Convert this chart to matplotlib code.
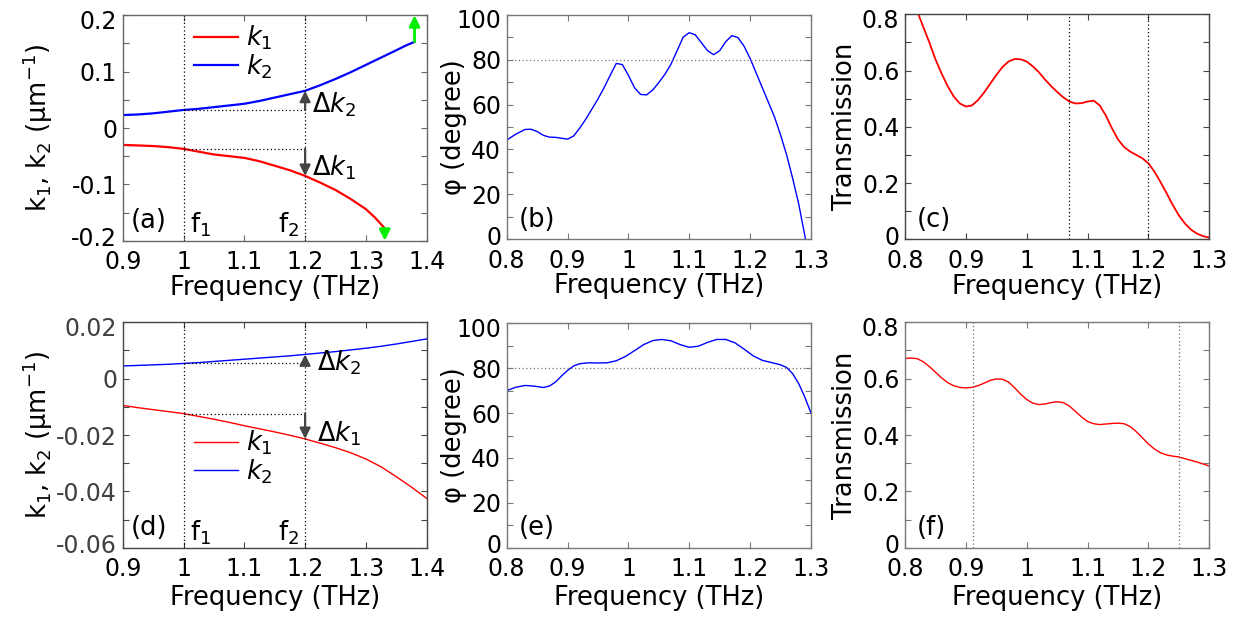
import matplotlib
matplotlib.use("Agg")
import matplotlib.pyplot as plt
from matplotlib.ticker import MultipleLocator, FuncFormatter
from matplotlib.transforms import ScaledTranslation

plt.rcParams['font.family'] = ['DejaVu Sans']
plt.rcParams['axes.unicode_minus'] = False
plt.rcParams['mathtext.fontset'] = 'dejavusans'

# ---------------- data ----------------
# (a)
freq_a_k1 = [0.90, 0.925, 0.95, 0.975, 1.00, 1.025, 1.05, 1.075, 1.10, 1.125, 1.15, 1.175,
             1.20, 1.225, 1.25, 1.275, 1.30, 1.315, 1.331]
k1_a = [-0.030, -0.031, -0.032, -0.034, -0.037, -0.042, -0.047, -0.050, -0.053, -0.059, -0.067,
        -0.075, -0.085, -0.097, -0.110, -0.126, -0.144, -0.159, -0.178]
freq_a_k2 = [0.90, 0.925, 0.95, 0.975, 1.00, 1.025, 1.05, 1.075, 1.10, 1.125, 1.15, 1.175,
             1.20, 1.225, 1.25, 1.275, 1.30, 1.325, 1.35, 1.365, 1.38]
k2_a = [0.023, 0.024, 0.026, 0.029, 0.032, 0.034, 0.037, 0.040, 0.043, 0.048, 0.054, 0.060,
        0.066, 0.076, 0.087, 0.099, 0.112, 0.125, 0.138, 0.146, 0.153]
f1_a, f2_a = 1.0, 1.2
k1_f1_a, k1_f2_a = -0.037, -0.085
k2_f1_a, k2_f2_a = 0.032, 0.066

# (b)
freq_b = [0.800, 0.815, 0.830, 0.840, 0.850, 0.860, 0.870, 0.880, 0.890, 0.900, 0.910,
          0.920, 0.930, 0.940, 0.950, 0.960, 0.970, 0.980, 0.990, 1.000, 1.010, 1.020,
          1.030, 1.040, 1.050, 1.060, 1.070, 1.080, 1.090, 1.100, 1.110, 1.120, 1.130,
          1.140, 1.150, 1.160, 1.170, 1.180, 1.190, 1.200, 1.210, 1.220, 1.230, 1.240,
          1.250, 1.260, 1.270, 1.280, 1.291]
phi_b = [44.2, 46.8, 48.9, 49.0, 48.0, 46.3, 45.5, 45.4, 45.0, 44.6, 46.0,
         49.5, 53.5, 58.0, 62.5, 67.5, 73.0, 78.3, 77.8, 73.0, 67.5, 64.5,
         64.3, 66.5, 69.8, 73.5, 78.0, 84.0, 90.0, 92.0, 91.0, 87.5, 84.0,
         82.2, 84.0, 88.0, 90.7, 89.8, 86.0, 80.5, 74.0, 67.5, 61.0, 54.5,
         46.5, 37.5, 27.0, 15.5, 0.0]
phi_ref = 80

# (c)
freq_c = [0.822, 0.830, 0.840, 0.850, 0.860, 0.870, 0.880, 0.890, 0.900, 0.910, 0.920,
          0.930, 0.940, 0.950, 0.960, 0.970, 0.980, 0.990, 1.000, 1.010, 1.020, 1.030,
          1.040, 1.050, 1.060, 1.070, 1.080, 1.090, 1.100, 1.110, 1.120, 1.130, 1.140,
          1.150, 1.160, 1.170, 1.180, 1.190, 1.200, 1.210, 1.220, 1.230, 1.240, 1.250,
          1.260, 1.270, 1.280, 1.290, 1.300]
trans_c = [0.800, 0.755, 0.700, 0.640, 0.590, 0.545, 0.508, 0.483, 0.472, 0.476, 0.495,
           0.522, 0.553, 0.584, 0.612, 0.632, 0.641, 0.640, 0.632, 0.615, 0.594, 0.568,
           0.545, 0.524, 0.505, 0.490, 0.483, 0.484, 0.490, 0.493, 0.476, 0.440, 0.395,
           0.355, 0.328, 0.312, 0.300, 0.288, 0.270, 0.240, 0.203, 0.163, 0.122, 0.085,
           0.056, 0.034, 0.020, 0.011, 0.006]
vlines_c = [1.07, 1.20]

# (d)
freq_d = [0.90, 0.925, 0.95, 0.975, 1.00, 1.025, 1.05, 1.075, 1.10, 1.125, 1.15, 1.175,
          1.20, 1.225, 1.25, 1.275, 1.30, 1.325, 1.35, 1.375, 1.40]
k1_d = [-0.0095, -0.0103, -0.0110, -0.0117, -0.0124, -0.0134, -0.0144, -0.0155, -0.0167,
        -0.0178, -0.0189, -0.0201, -0.0214, -0.0229, -0.0245, -0.0263, -0.0285, -0.0313,
        -0.0348, -0.0385, -0.0425]
k2_d = [0.0045, 0.0047, 0.0049, 0.0051, 0.0054, 0.0057, 0.0061, 0.0065, 0.0069, 0.0073,
        0.0077, 0.0081, 0.0086, 0.0091, 0.0096, 0.0102, 0.0108, 0.0115, 0.0123, 0.0132, 0.0141]
f1_d, f2_d = 1.0, 1.2
k1_f1_d, k1_f2_d = -0.0124, -0.0214
k2_f1_d, k2_f2_d = 0.0054, 0.0086

# (e)
freq_e = [0.800, 0.815, 0.830, 0.845, 0.860, 0.870, 0.880, 0.890, 0.900, 0.910, 0.920,
          0.935, 0.950, 0.965, 0.980, 0.995, 1.010, 1.025, 1.040, 1.055, 1.070, 1.085,
          1.100, 1.115, 1.130, 1.145, 1.160, 1.175, 1.190, 1.205, 1.220, 1.235, 1.250,
          1.260, 1.270, 1.280, 1.290, 1.300]
phi_e = [70.0, 71.5, 72.3, 72.0, 71.4, 72.0, 73.8, 76.5, 79.0, 81.0, 82.0,
         82.4, 82.3, 82.4, 83.3, 85.2, 87.8, 90.5, 92.3, 92.8, 92.2, 90.5,
         89.3, 89.8, 91.5, 92.8, 92.8, 91.3, 88.5, 85.5, 83.5, 82.5, 81.5,
         80.3, 77.5, 73.0, 67.0, 60.0]

# (f)
freq_f = [0.800, 0.810, 0.820, 0.830, 0.840, 0.850, 0.860, 0.870, 0.880, 0.890, 0.900,
          0.910, 0.920, 0.930, 0.940, 0.950, 0.960, 0.970, 0.980, 0.990, 1.000, 1.010,
          1.020, 1.030, 1.040, 1.050, 1.060, 1.070, 1.080, 1.090, 1.100, 1.110, 1.120,
          1.130, 1.140, 1.150, 1.160, 1.170, 1.180, 1.190, 1.200, 1.210, 1.220, 1.230,
          1.240, 1.250, 1.260, 1.270, 1.280, 1.290, 1.300]
trans_f = [0.672, 0.673, 0.671, 0.660, 0.643, 0.623, 0.603, 0.586, 0.575, 0.569, 0.567,
           0.569, 0.575, 0.584, 0.594, 0.599, 0.598, 0.588, 0.568, 0.545, 0.526, 0.513,
           0.508, 0.510, 0.515, 0.518, 0.515, 0.503, 0.484, 0.464, 0.448, 0.440, 0.437,
           0.439, 0.441, 0.442, 0.440, 0.430, 0.412, 0.390, 0.368, 0.350, 0.337, 0.329,
           0.325, 0.322, 0.316, 0.310, 0.304, 0.297, 0.290]
vlines_f = [0.911, 1.250]

# ---------------- style ----------------
FS_TICK = 17
FS_LAB = 18.5
FRAME = '#555555'
RED = '#ff0000'
BLUE = '#0000ff'
fmt = FuncFormatter(lambda v, p: '%g' % round(v, 4))

fig = plt.figure(figsize=(12.45, 6.17), dpi=100)
W, H = 1245.0, 617.0
all_axes = []


def make_ax(l, r, t, b):
    a = fig.add_axes([l / W, 1 - b / H, (r - l) / W, (b - t) / H])
    all_axes.append(a)
    return a


def style(ax, xlim, ylim, xmaj, ymaj, ymin, ylabel, ylab_x, xlab_y, frame=FRAME, ytcol='black'):
    ax.set_xlim(*xlim)
    ax.set_ylim(*ylim)
    ax.xaxis.set_major_locator(MultipleLocator(xmaj))
    ax.yaxis.set_major_locator(MultipleLocator(ymaj))
    ax.yaxis.set_minor_locator(MultipleLocator(ymin))
    ax.xaxis.set_major_formatter(fmt)
    ax.yaxis.set_major_formatter(fmt)
    ax.tick_params(which='both', direction='in', top=True, right=True, length=4,
                   width=0.8, color=frame, labelsize=FS_TICK)
    ax.tick_params(axis='x', pad=7)
    ax.tick_params(axis='y', pad=4, labelcolor=ytcol)
    for s in ax.spines.values():
        s.set_color(frame)
        s.set_linewidth(1.0)
    ax.set_xlabel('Frequency (THz)', fontsize=FS_LAB)
    ax.set_ylabel(ylabel, fontsize=FS_LAB)
    ax.yaxis.set_label_coords(ylab_x, 0.5)
    ax.xaxis.set_label_coords(0.5, xlab_y)


KLAB = 'k$_\\mathregular{1}$, k$_\\mathregular{2}$ (μm$^\\mathregular{-1}$)'
dot = (0, (1, 2))
XL_TOP, XL_BOT = -0.152, -0.166

# ---- (a)
ax = make_ax(122.7, 426.7, 15.3, 240.7)
ax.plot(freq_a_k1, k1_a, color=RED, lw=1.6, label='$k_1$')
ax.plot(freq_a_k2, k2_a, color=BLUE, lw=1.6, label='$k_2$')
style(ax, (0.9, 1.4), (-0.2, 0.2), 0.1, 0.1, 0.05, KLAB, -0.223, XL_TOP, frame='#666666')
for xv in (f1_a, f2_a):
    ax.axvline(xv, color='black', lw=0.9, ls=dot)
ax.plot([f1_a, f2_a], [k2_f1_a, k2_f1_a], color='black', lw=0.9, ls=dot)
ax.plot([f1_a, f2_a], [k1_f1_a, k1_f1_a], color='black', lw=0.9, ls=dot)
ap = dict(arrowstyle='-|>', color='#444444', lw=1.6, mutation_scale=16, shrinkA=0, shrinkB=0)
ax.annotate('', xy=(f2_a, k2_f2_a), xytext=(f2_a, k2_f1_a), arrowprops=ap)
ax.annotate('', xy=(f2_a, k1_f2_a), xytext=(f2_a, k1_f1_a), arrowprops=ap)
ax.text(1.211, 0.041, 'Δ$k_2$', fontsize=FS_LAB, va='center', ha='left')
ax.text(1.211, -0.071, 'Δ$k_1$', fontsize=FS_LAB, va='center', ha='left')
gp = dict(arrowstyle='-|>', color='#00ee00', lw=2.0, mutation_scale=16, shrinkA=0, shrinkB=0)
ax.annotate('', xy=(freq_a_k2[-1], 0.2), xytext=(freq_a_k2[-1], k2_a[-1]), arrowprops=gp,
            annotation_clip=False)
ax.annotate('', xy=(freq_a_k1[-1], -0.2), xytext=(freq_a_k1[-1], k1_a[-1]), arrowprops=gp,
            annotation_clip=False)
ax.text(0.025, 0.03, '(a)', transform=ax.transAxes, fontsize=FS_LAB, va='bottom')
ax.text(1.011, -0.197, 'f$_\\mathregular{1}$', fontsize=FS_LAB, va='bottom')
ax.text(1.155, -0.197, 'f$_\\mathregular{2}$', fontsize=FS_LAB, va='bottom')
ax.legend(loc='center left', bbox_to_anchor=(0.235, 0.835), frameon=False, fontsize=FS_LAB,
          handlelength=1.7, handletextpad=0.3, labelspacing=0.0, borderpad=0, borderaxespad=0)

# ---- (b)
ax = make_ax(506.7, 811.0, 14.7, 239.3)
ax.plot(freq_b, phi_b, color=BLUE, lw=1.0)
ax.axhline(phi_ref, color='#777777', lw=0.9, ls=dot)
style(ax, (0.8, 1.3), (0, 100), 0.1, 20, 10, 'φ (degree)', -0.131, XL_TOP, frame='#777777')
ax.text(0.04, 0.03, '(b)', transform=ax.transAxes, fontsize=FS_LAB, va='bottom')

# ---- (c)
ax = make_ax(905.0, 1209.3, 14.3, 239.3)
ax.plot(freq_c, trans_c, color=RED, lw=1.3)
for xv in vlines_c:
    ax.axvline(xv, color='black', lw=0.9, ls=dot)
style(ax, (0.8, 1.3), (0, 0.8), 0.1, 0.2, 0.1, 'Transmission', -0.154, XL_TOP, frame='#444444')
ax.text(0.04, 0.03, '(c)', transform=ax.transAxes, fontsize=FS_LAB, va='bottom')

# ---- (d)
ax = make_ax(122.7, 426.7, 322.3, 547.7)
ax.plot(freq_d, k1_d, color=RED, lw=1.0, label='$k_1$')
ax.plot(freq_d, k2_d, color=BLUE, lw=1.0, label='$k_2$')
style(ax, (0.9, 1.4), (-0.06, 0.02), 0.1, 0.02, 0.01, KLAB, -0.223, XL_BOT,
      frame='#444444', ytcol='#404040')
for xv in (f1_d, f2_d):
    ax.axvline(xv, color='black', lw=0.9, ls=dot)
ax.plot([f1_d, f2_d], [k2_f1_d, k2_f1_d], color='black', lw=0.9, ls=dot)
ax.plot([f1_d, f2_d], [k1_f1_d, k1_f1_d], color='black', lw=0.9, ls=dot)
ax.annotate('', xy=(f2_d, k2_f2_d), xytext=(f2_d, k2_f1_d), arrowprops=ap)
ax.annotate('', xy=(f2_d, k1_f2_d), xytext=(f2_d, k1_f1_d), arrowprops=ap)
ax.text(1.219, 0.0056, 'Δ$k_2$', fontsize=FS_LAB, va='center', ha='left')
ax.text(1.219, -0.0196, 'Δ$k_1$', fontsize=FS_LAB, va='center', ha='left')
ax.text(0.025, 0.03, '(d)', transform=ax.transAxes, fontsize=FS_LAB, va='bottom')
ax.text(1.011, -0.0597, 'f$_\\mathregular{1}$', fontsize=FS_LAB, va='bottom')
ax.text(1.155, -0.0597, 'f$_\\mathregular{2}$', fontsize=FS_LAB, va='bottom')
ax.legend(loc='center left', bbox_to_anchor=(0.235, 0.402), frameon=False, fontsize=FS_LAB,
          handlelength=1.7, handletextpad=0.3, labelspacing=0.0, borderpad=0, borderaxespad=0)

# ---- (e)
ax = make_ax(506.7, 811.0, 323.3, 547.7)
ax.plot(freq_e, phi_e, color=BLUE, lw=1.0)
ax.axhline(phi_ref, color='#777777', lw=0.9, ls=dot)
style(ax, (0.8, 1.3), (0, 100), 0.1, 20, 10, 'φ (degree)', -0.131, XL_BOT, frame='#777777')
ax.text(0.04, 0.03, '(e)', transform=ax.transAxes, fontsize=FS_LAB, va='bottom')

# ---- (f)
ax = make_ax(905.0, 1209.3, 322.3, 547.7)
ax.plot(freq_f, trans_f, color=RED, lw=1.0)
for xv in vlines_f:
    ax.axvline(xv, color='#666666', lw=0.9, ls=dot)
style(ax, (0.8, 1.3), (0, 0.8), 0.1, 0.2, 0.1, 'Transmission', -0.154, XL_BOT, frame='#777777')
ax.text(0.04, 0.03, '(f)', transform=ax.transAxes, fontsize=FS_LAB, va='bottom')

# MATLAB-like nudging of the end y tick labels (top one down, bottom one up)
fig.canvas.draw()
for a in all_axes:
    lo, hi = a.get_ylim()
    for t in a.yaxis.get_major_ticks():
        loc = t.get_loc()
        if loc is None:
            continue
        if abs(loc - hi) < 1e-9 * max(1, abs(hi)) + 1e-12:
            t.label1.set_transform(t.label1.get_transform() +
                                   ScaledTranslation(0, -4 / 100, fig.dpi_scale_trans))
        elif abs(loc - lo) < 1e-9 * max(1, abs(lo)) + 1e-12:
            t.label1.set_transform(t.label1.get_transform() +
                                   ScaledTranslation(0, 4 / 100, fig.dpi_scale_trans))

fig.savefig('out.png', dpi=100)
